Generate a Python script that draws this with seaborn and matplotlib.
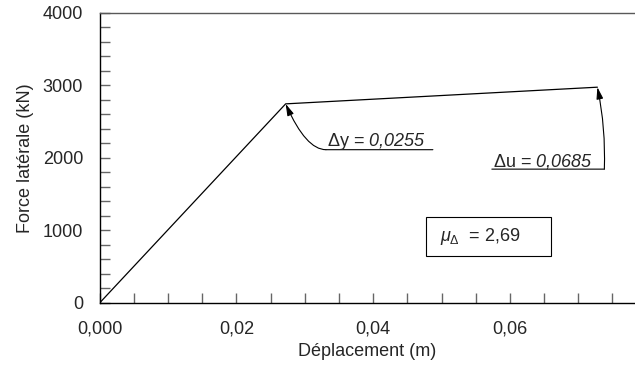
import matplotlib
matplotlib.use('Agg')
import matplotlib.pyplot as plt
from matplotlib.transforms import offset_copy
import seaborn as sns
import pandas as pd

# Courbe bilinéaire force-déplacement
deplacement = [0.0, 0.0272, 0.0728]
force = [0, 2745, 2975]
x_ticks = [0.0, 0.02, 0.04, 0.06]
x_labels = ['0,000', '0,02', '0,04', '0,06']
y_ticks = [0, 1000, 2000, 3000, 4000]
y_labels = ['0', '1000', '2000', '3000', '4000']

sns.set_style('white')
plt.rcParams['font.family'] = ['Liberation Sans', 'DejaVu Sans']
plt.rcParams['mathtext.fontset'] = 'custom'
plt.rcParams['mathtext.rm'] = 'Liberation Sans'
plt.rcParams['mathtext.it'] = 'Liberation Sans:italic'
plt.rcParams['mathtext.sf'] = 'Liberation Sans:italic'

df = pd.DataFrame({'Déplacement (m)': deplacement, 'Force latérale (kN)': force})

fig = plt.figure(figsize=(6.35, 3.68), dpi=100)
ax = fig.add_axes([0.157, 0.177, 0.843, 0.788])
sns.lineplot(data=df, x='Déplacement (m)', y='Force latérale (kN)', color='black',
             linewidth=0.9, ax=ax)

ax.set_xlim(0, 0.0783)
ax.set_ylim(0, 4000)
ax.set_xticks(x_ticks)
ax.set_xticklabels(x_labels)
ax.set_xticks([i * 0.005 for i in range(1, 16)], minor=True)
ax.set_yticks(y_ticks)
ax.set_yticklabels(y_labels)
ax.set_yticks([i * 200 for i in range(1, 20)], minor=True)
ax.tick_params(which='both', bottom=True, left=True, direction='in', length=7,
               width=1, color='0.4', labelsize=13)
ax.tick_params(axis='y', which='both', pad=12)
ax.tick_params(axis='x', which='both', pad=13)
ax.set_xlabel('Déplacement (m)', fontsize=13, labelpad=4)
ax.set_ylabel('Force latérale (kN)', fontsize=13, labelpad=6)
for s in ['left', 'bottom', 'top']:
    ax.spines[s].set_color('black')
    ax.spines[s].set_linewidth(1)
ax.spines['top'].set_color('0.35')
ax.spines['right'].set_visible(False)

def off(dx, dy):
    return offset_copy(ax.transData, fig=fig, x=dx, y=dy, units='points')

# Δy
py = (deplacement[1], force[1])
ax.annotate('', xy=py, xytext=py, textcoords=off(29, -33),
            arrowprops=dict(arrowstyle='-|>,head_length=0.7,head_width=0.2', color='black', lw=0.8,
                            shrinkA=0, shrinkB=0,
                            connectionstyle='angle3,angleA=0,angleB=114'))
ax.annotate('', xy=py, xycoords=off(106, -33), xytext=py, textcoords=off(29, -33),
            arrowprops=dict(arrowstyle='-', color='black', lw=0.8, shrinkA=0, shrinkB=0))
ax.annotate(r'$\Delta\mathrm{y}$ = $\mathsf{0{,}0255}$', xy=py, xytext=(30, -30),
            textcoords='offset points', ha='left', va='baseline', fontsize=13)

# Δu
pu = (deplacement[2], force[2])
ax.annotate('', xy=pu, xytext=pu, textcoords=off(5, -59),
            arrowprops=dict(arrowstyle='-|>,head_length=0.7,head_width=0.2', color='black', lw=0.8,
                            shrinkA=0, shrinkB=0, connectionstyle='arc3,rad=0.06'))
ax.annotate('', xy=pu, xycoords=off(5, -59), xytext=pu, textcoords=off(-76, -59),
            arrowprops=dict(arrowstyle='-', color='black', lw=0.8, shrinkA=0, shrinkB=0))
ax.annotate(r'$\Delta\mathrm{u}$ = $\mathsf{0{,}0685}$', xy=pu, xytext=(-75, -57),
            textcoords='offset points', ha='left', va='baseline', fontsize=13)

# Ductilité
ax.text(0.726, 0.228, r' $\mu_{\Delta}$  = 2,69     ', transform=ax.transAxes,
        ha='center', va='center', fontsize=13,
        bbox=dict(boxstyle='square,pad=0.5', fc='white', ec='black', lw=0.8))

fig.savefig('out.png', dpi=100)
